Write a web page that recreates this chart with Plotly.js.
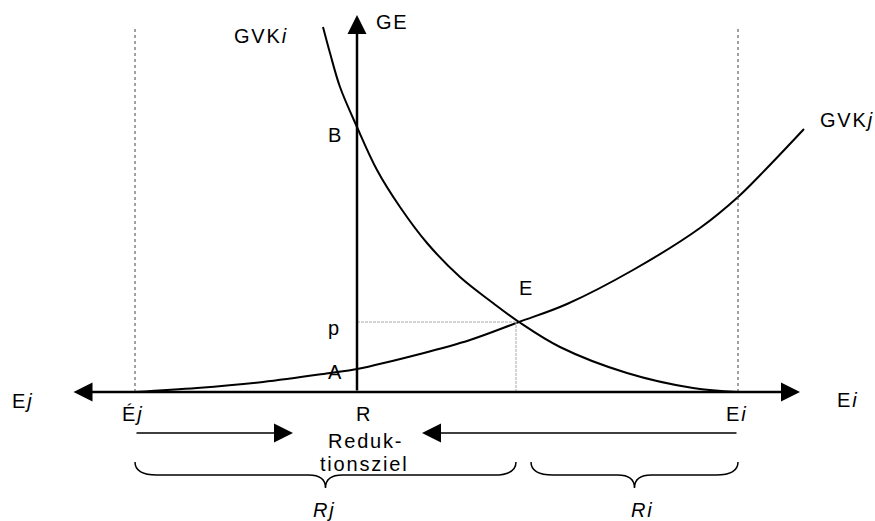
<!DOCTYPE html>
<html>
<head>
<meta charset="utf-8">
<script src="https://cdn.plot.ly/plotly-3.0.1.min.js"></script>
<style>
  html, body { margin: 0; padding: 0; background: #fff; }
  #chart { width: 875px; height: 521px; }
  .annotation-text { letter-spacing: 1.8px; }
</style>
</head>
<body>
<div id="chart"></div>
<script>
// Curves; origin is R on the emissions axis
const gvkiX = [-34, -27, -17, 0, 20, 43, 70, 103, 136, 162, 203, 270, 336, 381];
const gvkiY = [365, 339, 305, 265, 222, 185, 149, 115, 89, 70, 45, 19, 4, 0];

const gvkjX = [-222, -160, -94, -27, 0, 63, 113, 162, 210, 276, 343, 381, 410, 447];
const gvkjY = [0, 4, 10, 19, 23, 38, 52, 70, 88, 122, 164, 195, 224, 263];

// Key positions on the axes
const ejStart = -222;      // É j
const eiStart = 381;       // E i
const equilibrium = [159, 70];
const axisLeft = -285, axisRight = 443, axisTop = 377;
const goalArrowY = -41, goalArrowLeftTip = -64, goalArrowRightTip = 65;
const braces = [[ejStart, equilibrium[0]], [174, eiStart]];

// Labels
const labelTexts = ['GVK<i>i</i>', 'GE', 'B', 'p', 'A', 'E', 'GVK<i>j</i>',
  'E<i>j</i>', 'E<i>i</i>', 'É<i>j</i>', 'R', 'E<i>i</i>', 'Reduk-', 'tionsziel',
  '<i>Rj</i>', '<i>Ri</i>'];
const labelX = [-96, 35, -22, -23, -22, 169, 490, -335, 490, -225, 7, 379, 8, 7, -33, 285];
const labelY = [356, 370, 257, 64, 20, 104, 272, -9, -8, -22, -22, -22, -49, -72, -118, -118];

const font = {family: '"Liberation Sans", Arial, sans-serif', size: 20, color: '#000'};

const traces = [
  {x: gvkiX, y: gvkiY, type: 'scatter', mode: 'lines',
   line: {color: '#000', width: 2, shape: 'spline', smoothing: 1}, hoverinfo: 'skip'},
  {x: gvkjX, y: gvkjY, type: 'scatter', mode: 'lines',
   line: {color: '#000', width: 2, shape: 'spline', smoothing: 1}, hoverinfo: 'skip'}
];

function bracePath(x0, x1) {
  const xm = (x0 + x1) / 2, top = -70, mid = -83, tip = -96, r = 22, rc = 17;
  return `M${x0},${top} Q${x0},${mid} ${x0 + r},${mid} L${xm - rc},${mid} ` +
    `Q${xm},${mid} ${xm},${tip} Q${xm},${mid} ${xm + rc},${mid} ` +
    `L${x1 - r},${mid} Q${x1},${mid} ${x1},${top}`;
}

const shapes = [
  // dotted limits
  {type: 'line', x0: ejStart, x1: ejStart, y0: 0, y1: 364, line: {color: '#444', width: 1, dash: 'dot'}},
  {type: 'line', x0: eiStart, x1: eiStart, y0: 0, y1: 364, line: {color: '#444', width: 1, dash: 'dot'}},
  // price and equilibrium guides
  {type: 'line', x0: 0, x1: equilibrium[0], y0: equilibrium[1], y1: equilibrium[1],
   line: {color: '#aaa', width: 1, dash: '3px,1px'}},
  {type: 'line', x0: equilibrium[0], x1: equilibrium[0], y0: 0, y1: equilibrium[1],
   line: {color: '#aaa', width: 1, dash: '3px,1px'}}
].concat(braces.map(b => ({
  type: 'path', path: bracePath(b[0], b[1]), line: {color: '#000', width: 1.5}
})));

const arrows = [
  {x: axisRight, y: 0, ax: axisLeft, ay: 0, arrowside: 'end+start', w: 2.5},
  {x: 0, y: axisTop, ax: 0, ay: 0, arrowside: 'end', w: 2.5},
  {x: goalArrowLeftTip, y: goalArrowY, ax: ejStart, ay: goalArrowY, arrowside: 'end', w: 1.7},
  {x: goalArrowRightTip, y: goalArrowY, ax: eiStart, ay: goalArrowY, arrowside: 'end', w: 1.7}
].map(a => ({
  x: a.x, y: a.y, ax: a.ax, ay: a.ay, xref: 'x', yref: 'y', axref: 'x', ayref: 'y',
  text: '', showarrow: true, arrowside: a.arrowside,
  arrowhead: 2, startarrowhead: 2, arrowsize: 3.8 / a.w, startarrowsize: 3.8 / a.w,
  arrowwidth: a.w, arrowcolor: '#000', standoff: 0, startstandoff: 0
}));

const labels = labelTexts.map((t, i) => ({
  x: labelX[i], y: labelY[i], xref: 'x', yref: 'y', text: t, showarrow: false,
  xanchor: 'center', yanchor: 'middle', font: font
}));

const layout = {
  width: 875, height: 521,
  margin: {l: 0, r: 0, t: 0, b: 0},
  paper_bgcolor: '#fff', plot_bgcolor: '#fff',
  showlegend: false,
  xaxis: {range: [-357, 518], visible: false, fixedrange: true},
  yaxis: {range: [-129, 392], visible: false, fixedrange: true},
  shapes: shapes,
  annotations: arrows.concat(labels)
};

Plotly.newPlot('chart', traces, layout, {staticPlot: true});
</script>
</body>
</html>
